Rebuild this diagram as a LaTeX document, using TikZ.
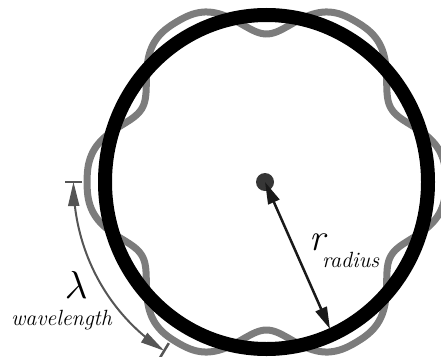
\documentclass[tikz,border=0pt]{standalone}
\usetikzlibrary{arrows.meta}
\definecolor{wavegray}{HTML}{7C7C7C}
\definecolor{arcgray}{HTML}{555555}
\definecolor{dotgray}{HTML}{363636}
\begin{document}
\begin{tikzpicture}[x=1pt,y=-1pt,
  declare function={wr(\t)=185-37*((1-cos(6*\t))/2)^1.6;},
  lbl/.style={inner sep=0pt, anchor=base west},
  bigit/.style={font=\itshape\fontsize{38}{40}\selectfont},
  smallit/.style={font=\itshape\fontsize{22}{26}\selectfont},
  radarrow/.style={line width=2.5pt, color=black!90, {Triangle[length=22pt,width=12pt]}-{Triangle[length=22pt,width=12pt]}},
  wavearrow/.style={line width=2pt, color=arcgray, {Triangle[length=24pt,width=11pt]}-{Triangle[length=24pt,width=11pt]}},
  tick/.style={line width=2.5pt, color=arcgray}]
\useasboundingbox (0,0) rectangle (441,356);
% wavy standing wave
\draw[wavegray, line width=7pt] plot[domain=0:359, samples=180, smooth cycle]
  ({266.5+0.97*wr(\x)*cos(\x)},{182-wr(\x)*sin(\x)});
% orbit circle
\draw[black, line width=14pt] (266.5,182) ellipse[x radius=161.5, y radius=167];
% nucleus
\node[circle, fill=dotgray, minimum size=18pt, inner sep=0pt] (c) at (265,182) {};
\coordinate (rt) at (330,329);
\draw[radarrow] (c.center) -- (rt);
% wavelength arc
\draw[wavearrow] plot[domain=180:238, samples=40, smooth]
  ({266.5+0.97*199*cos(\x)},{182-199*sin(\x)});
\coordinate (t1a) at ({266.5-0.97*190},182);
\coordinate (t1b) at ({266.5-0.97*208},182);
\coordinate (t2a) at ({266.5+0.97*190*cos(238)},{182-190*sin(238)});
\coordinate (t2b) at ({266.5+0.97*210*cos(238)},{182-210*sin(238)});
\draw[tick] (t1a) -- (t1b);
\draw[tick] (t2a) -- (t2b);
% labels
\node[lbl, bigit] (r) at (309,250) {r};
\node[lbl, smallit] (rad) at (322,267) {radius};
\node[lbl, scale=3.9] (lam) at (64,298) {$\lambda$};
\node[lbl, smallit] (wl) at (11,325) {wavelength};
\end{tikzpicture}
\end{document}
